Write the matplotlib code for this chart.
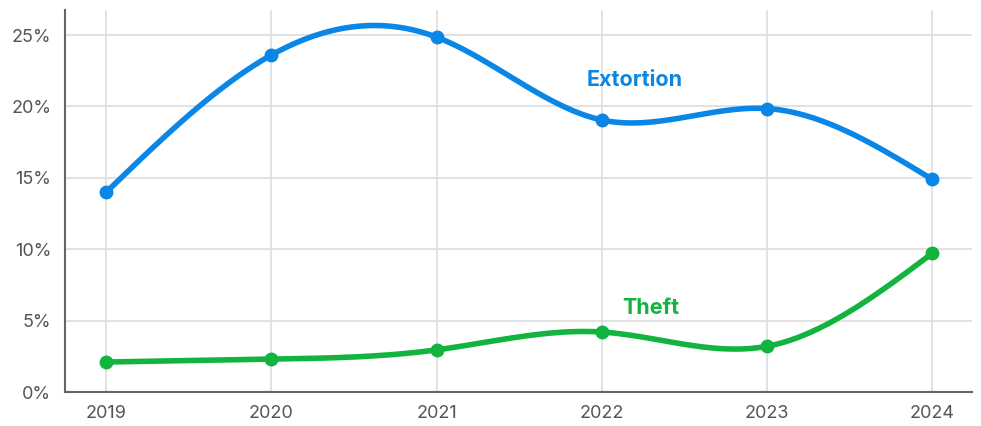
import numpy as np
import matplotlib.pyplot as plt

years = [2019, 2020, 2021, 2022, 2023, 2024]
extortion = [14.0, 23.6, 24.85, 19.05, 19.85, 14.9]
theft = [2.1, 2.3, 2.95, 4.2, 3.2, 9.7]

blue = '#0a86e6'
green = '#12b33e'


def spline(x, y, n=300):
    # natural cubic spline through the points
    x = np.asarray(x, float)
    y = np.asarray(y, float)
    m = len(x)
    h = np.diff(x)
    A = np.zeros((m, m))
    b = np.zeros(m)
    A[0, 0] = 1
    A[-1, -1] = 1
    for i in range(1, m - 1):
        A[i, i - 1] = h[i - 1]
        A[i, i] = 2 * (h[i - 1] + h[i])
        A[i, i + 1] = h[i]
        b[i] = 3 * ((y[i + 1] - y[i]) / h[i] - (y[i] - y[i - 1]) / h[i - 1])
    c = np.linalg.solve(A, b)
    xs = np.linspace(x[0], x[-1], n)
    ys = np.empty_like(xs)
    for k, xv in enumerate(xs):
        i = min(np.searchsorted(x, xv, side='right') - 1, m - 2)
        d = xv - x[i]
        bi = (y[i + 1] - y[i]) / h[i] - h[i] * (2 * c[i] + c[i + 1]) / 3
        di = (c[i + 1] - c[i]) / (3 * h[i])
        ys[k] = y[i] + bi * d + c[i] * d ** 2 + di * d ** 3
    return xs, ys


plt.rcParams['font.family'] = ['Inter', 'DejaVu Sans']

fig = plt.figure(figsize=(9.81, 4.26), dpi=100)
ax = fig.add_axes([0.0663, 0.0798, 0.925, 0.8967])

for vals, col in [(extortion, blue), (theft, green)]:
    xs, ys = spline(years, vals)
    ax.plot(xs, ys, color=col, lw=4, solid_capstyle='round', zorder=3)
    ax.plot(years, vals, 'o', color=col, ms=9, zorder=4)

ax.text(2022.2, 21.85, 'Extortion', color=blue, fontsize=15.5, fontweight='bold',
        ha='center', va='center')
ax.text(2022.3, 5.85, 'Theft', color=green, fontsize=15.5, fontweight='bold',
        ha='center', va='center')

ax.set_xlim(2018.75, 2024.245)
ax.set_ylim(0, 26.75)
ax.set_xticks(years)
ax.set_yticks([0, 5, 10, 15, 20, 25])
ax.set_yticklabels([f'{v}%' for v in [0, 5, 10, 15, 20, 25]])
ax.tick_params(length=0, labelsize=13, colors='#555555', pad=10)
ax.tick_params(axis='x', pad=9)
ax.grid(True, color='#dddddd', lw=1.2)
ax.set_axisbelow(True)
for s in ['top', 'right']:
    ax.spines[s].set_visible(False)
for s in ['left', 'bottom']:
    ax.spines[s].set_color('#666666')
    ax.spines[s].set_linewidth(1.5)

fig.savefig('out.png', dpi=100)
